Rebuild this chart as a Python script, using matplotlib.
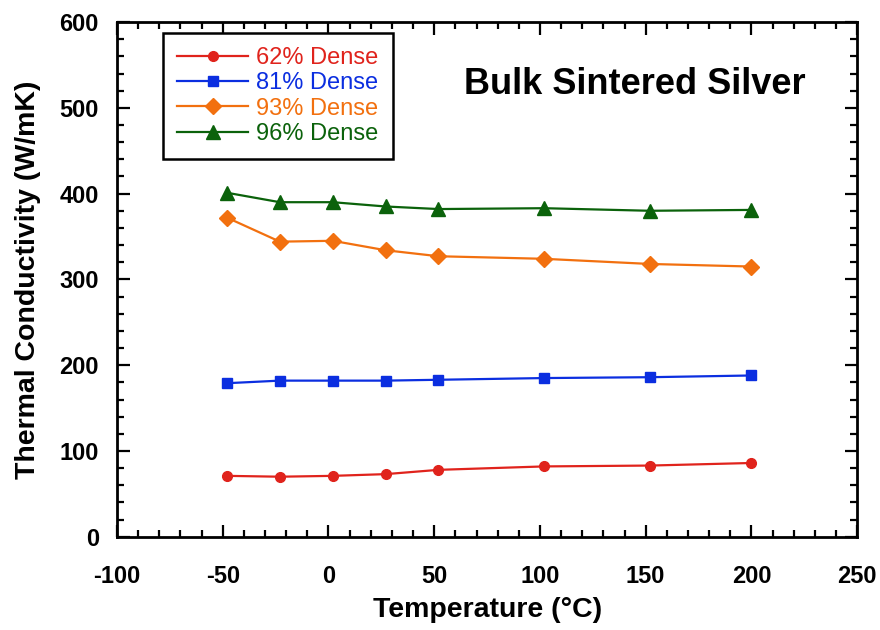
import matplotlib
matplotlib.use("Agg")
import matplotlib.pyplot as plt
from matplotlib.ticker import MultipleLocator

# temperature points (deg C) and conductivity for each density
temps = [-48, -23, 2, 27, 52, 102, 152, 200]
dense_62 = [71, 70, 71, 73, 78, 82, 83, 86]
dense_81 = [179, 182, 182, 182, 183, 185, 186, 188]
dense_93 = [372, 344, 345, 334, 327, 324, 318, 315]
dense_96 = [401, 390, 390, 385, 382, 383, 380, 381]

labels = ["62% Dense", "81% Dense", "93% Dense", "96% Dense"]
colors = ["#e0231c", "#0b2ee0", "#f2700f", "#0b620b"]
markers = ["o", "s", "D", "^"]
msizes = [7, 7, 8, 9.5]

plt.rcParams['font.family'] = ['Liberation Sans', 'DejaVu Sans']
plt.rcParams['axes.unicode_minus'] = False

fig = plt.figure(figsize=(8.8, 6.3), dpi=100)
ax = fig.add_axes([0.133, 0.148, 0.841, 0.817])

series = [dense_62, dense_81, dense_93, dense_96]
for vals, lab, c, m, ms in zip(series, labels, colors, markers, msizes):
    ax.plot(temps, vals, color=c, marker=m, markersize=ms, linewidth=1.6,
            label=lab)

ax.set_xlim(-100, 250)
ax.set_ylim(0, 600)
ax.xaxis.set_major_locator(MultipleLocator(50))
ax.xaxis.set_minor_locator(MultipleLocator(10))
ax.yaxis.set_major_locator(MultipleLocator(100))
ax.yaxis.set_minor_locator(MultipleLocator(20))
ax.tick_params(which='both', direction='in', top=True, right=True, width=1.6)
ax.tick_params(which='major', length=9)
ax.tick_params(which='minor', length=5)
ax.tick_params(axis='x', which='major', pad=20)
ax.tick_params(axis='y', which='major', pad=13)
for sp in ax.spines.values():
    sp.set_linewidth(2)

for t in ax.get_xticklabels() + ax.get_yticklabels():
    t.set_fontsize(17)
    t.set_fontweight('bold')

ax.set_xlabel("Temperature (°C)", fontsize=20.5, fontweight='bold',
              labelpad=7)
ax.set_ylabel("Thermal Conductivity (W/mK)", fontsize=20.5, fontweight='bold',
              labelpad=13)

ax.text(0.7, 0.878, "Bulk Sintered Silver", transform=ax.transAxes,
        fontsize=26, fontweight='bold', ha='center', va='center')

leg = ax.legend(loc='upper left', bbox_to_anchor=(0.062, 0.979),
                fontsize=17, handlelength=3.0, handletextpad=0.35,
                labelspacing=0.14, borderpad=0.6, borderaxespad=0,
                fancybox=False, framealpha=1)
leg.get_frame().set_edgecolor('black')
leg.get_frame().set_linewidth(1.8)
for txt, c in zip(leg.get_texts(), colors):
    txt.set_color(c)

fig.savefig("out.png", dpi=100)
